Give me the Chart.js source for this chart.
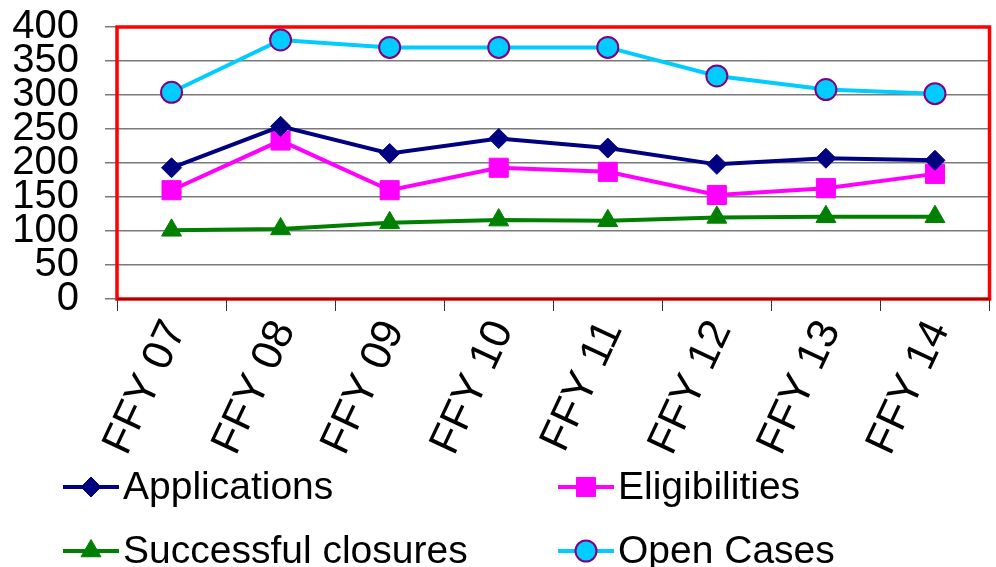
<!DOCTYPE html>
<html lang="en">
<head>
    <meta charset="UTF-8">
    <title>FFY 07 - FFY 14</title>
    <script src="https://cdn.jsdelivr.net/npm/chart.js"></script>
    <style>
        html, body {
            margin: 0;
            padding: 0;
            background: #ffffff;
            overflow: hidden;
        }
        .chart-box {
            width: 1004px;
            height: 567px;
            position: relative;
        }
    </style>
</head>
<body>
    <div class="chart-box">
        <canvas id="mainChart"></canvas>
    </div>

    <script>
    var years = ['FFY 07', 'FFY 08', 'FFY 09', 'FFY 10', 'FFY 11', 'FFY 12', 'FFY 13', 'FFY 14'];
    var applications = [193, 254, 214, 236, 222, 198, 207, 204];
    var eligibilities = [160, 233, 160, 193, 187, 153, 163, 184];
    var closures = [101, 103, 112, 116, 115, 120, 121, 121];
    var openCases = [304, 381, 370, 370, 370, 328, 308, 302];
    var yTicks = [0, 50, 100, 150, 200, 250, 300, 350, 400];

    var fontFamily = '"Liberation Sans", Arial, sans-serif';

    // red frame round the plot area, drawn over the grid
    var frame = {
        id: 'frame',
        beforeDatasetsDraw: function(chart) {
            var a = chart.chartArea;
            var ctx = chart.ctx;
            ctx.save();
            ctx.strokeStyle = '#ff0000';
            ctx.lineWidth = 3.5;
            ctx.strokeRect(a.left, a.top, a.right - a.left, a.bottom - a.top);
            ctx.strokeStyle = '#5a0000';
            ctx.lineWidth = 1;
            ctx.beginPath();
            ctx.moveTo(a.left, a.bottom);
            ctx.lineTo(a.right, a.bottom);
            ctx.stroke();
            ctx.restore();
        }
    };

    // two column legend under the axis labels
    var legendBlock = {
        id: 'legendBlock',
        afterDraw: function(chart) {
            var ctx = chart.ctx;
            var cols = [63, 558];
            var rows = [487, 551];
            ctx.save();
            chart.data.datasets.forEach(function(ds, i) {
                var x0 = cols[i % 2];
                var y = rows[Math.floor(i / 2)];
                ctx.strokeStyle = ds.borderColor;
                ctx.lineWidth = 4;
                ctx.beginPath();
                ctx.moveTo(x0, y);
                ctx.lineTo(x0 + 56, y);
                ctx.stroke();
                ctx.fillStyle = ds.pointBackgroundColor;
                ctx.strokeStyle = ds.pointBorderColor;
                ctx.lineWidth = ds.pointBorderWidth;
                Chart.helpers.drawPoint(ctx, {
                    pointStyle: ds.pointStyle,
                    radius: ds.pointRadius,
                    rotation: 0,
                    borderWidth: ds.pointBorderWidth
                }, x0 + 28, y);
                ctx.fillStyle = '#000000';
                ctx.font = '39px ' + fontFamily;
                ctx.textBaseline = 'middle';
                ctx.textAlign = 'left';
                ctx.fillText(ds.label, x0 + 60, y + 1);
            });
            ctx.restore();
        }
    };

    function series(label, data, color, style, radius, pointFill, pointLine, pointWidth) {
        return {
            label: label,
            data: data,
            borderColor: color,
            borderWidth: 4,
            tension: 0,
            fill: false,
            pointStyle: style,
            pointRadius: radius,
            pointHoverRadius: radius,
            pointBackgroundColor: pointFill,
            pointBorderColor: pointLine,
            pointBorderWidth: pointWidth
        };
    }

    var ctx = document.getElementById('mainChart').getContext('2d');
    var chart = new Chart(ctx, {
        type: 'line',
        data: {
            labels: years,
            datasets: [
                series('Applications', applications, '#000080', 'rectRot', 10, '#000080', '#000080', 1),
                series('Eligibilities', eligibilities, '#ff00ff', 'rect', 13.5, '#ff00ff', '#ff00ff', 1),
                series('Successful closures', closures, '#008000', 'triangle', 11.5, '#008000', '#008000', 1),
                series('Open Cases', openCases, '#00ccff', 'circle', 10.5, '#00ccff', '#800080', 2)
            ]
        },
        options: {
            responsive: true,
            maintainAspectRatio: false,
            animation: false,
            layout: {
                padding: { top: 27, left: 0, right: 0, bottom: 0 }
            },
            plugins: {
                legend: { display: false },
                title: { display: false },
                tooltip: { enabled: false }
            },
            scales: {
                x: {
                    offset: true,
                    afterFit: function(scale) { scale.height = 268; },
                    grid: {
                        offset: true,
                        drawOnChartArea: false,
                        drawTicks: true,
                        tickLength: 12,
                        color: '#333333',
                        lineWidth: 1
                    },
                    border: { display: false },
                    ticks: {
                        color: '#000000',
                        minRotation: 65,
                        maxRotation: 65,
                        padding: 2,
                        labelOffset: 4,
                        font: { family: fontFamily, size: 43 }
                    }
                },
                y: {
                    min: 0,
                    max: 400,
                    afterFit: function(scale) {
                        scale.width = 117;
                        scale.paddingTop = 0;
                        scale.paddingBottom = 0;
                    },
                    afterBuildTicks: function(scale) {
                        scale.ticks = yTicks.map(function(v) { return { value: v }; });
                    },
                    grid: {
                        color: '#7a7a7a',
                        lineWidth: 1.5,
                        drawTicks: true,
                        tickLength: 12
                    },
                    border: { display: false },
                    ticks: {
                        color: '#000000',
                        autoSkip: false,
                        padding: 26,
                        font: { family: fontFamily, size: 40 }
                    }
                }
            }
        },
        plugins: [frame, legendBlock]
    });
    </script>
</body>
</html>
